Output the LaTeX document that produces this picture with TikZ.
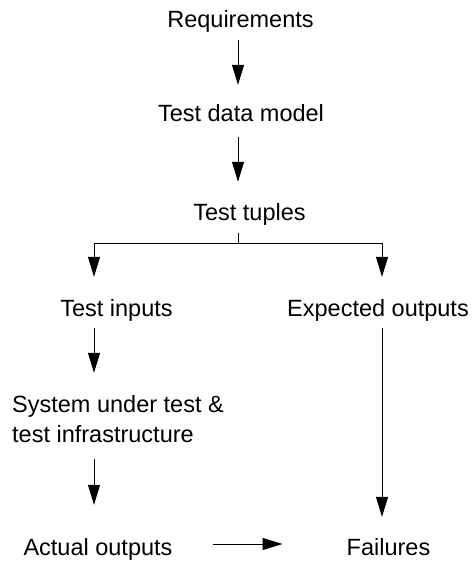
\documentclass[tikz,border=0pt]{standalone}
\usepackage{fontspec}
\setmainfont{Liberation Sans}
\usetikzlibrary{arrows.meta}
\begin{document}
\begin{tikzpicture}[x=1pt,y=-1pt,
  lbl/.style={inner sep=0pt, anchor=base, text height=17pt, text depth=5pt, font=\fontsize{23.5}{30}\selectfont},
  mlbl/.style={inner sep=0pt, anchor=base west, align=left, font=\fontsize{23.5}{30}\selectfont},
  arr/.style={line width=1pt, -{Triangle[length=20pt,width=12pt]}},
  ln/.style={line width=1pt}]
\useasboundingbox (0,0) rectangle (474,561);
\node[lbl] (req) at (240.5,28) {Requirements};
\node[lbl] (tdm) at (241,122) {Test data model};
\node[lbl] (tt) at (249.5,220) {Test tuples};
\node[lbl] (ti) at (116.5,316) {Test inputs};
\node[lbl] (eo) at (378,316) {Expected outputs};
\node[mlbl] (sut) at (12,442) {System under test \&\\test infrastructure};
\node[lbl] (ao) at (98,555) {Actual outputs};
\node[lbl] (fail) at (388.5,555) {Failures};
% connectors
\draw[arr, shorten <=7pt, shorten >=20pt] ([xshift=-2.5pt]req.south) -- ([xshift=-2.5pt]req.south |- tdm.north);
\draw[arr, shorten <=10pt, shorten >=21pt] ([xshift=-3pt]tdm.south) -- ([xshift=-3pt]tdm.south |- tt.north);
\draw[ln] ([xshift=-11.5pt,yshift=-8pt]tt.south) -- ++(0,10) coordinate (br);
\draw[arr] (br) -| ([xshift=-22.5pt,yshift=22pt]ti.north);
\draw[arr] (br) -| ([xshift=4pt,yshift=22pt]eo.north);
\draw[arr, shorten <=7pt, shorten >=22pt] ([xshift=-22.5pt]ti.south) -- ([xshift=-22.5pt]ti.south |- sut.north);
\draw[arr, shorten <=17pt, shorten >=33pt] ([xshift=-22.5pt]ti.south |- sut.south) -- ([xshift=-22.5pt]ti.south |- ao.north);
\draw[arr, shorten <=7pt, shorten >=21pt] ([xshift=4pt]eo.south) -- ([xshift=4pt]eo.south |- fail.north);
\draw[arr, shorten <=40pt, shorten >=64pt] ([yshift=5pt]ao.east) -- ([yshift=5pt]fail.west);
\end{tikzpicture}
\end{document}
